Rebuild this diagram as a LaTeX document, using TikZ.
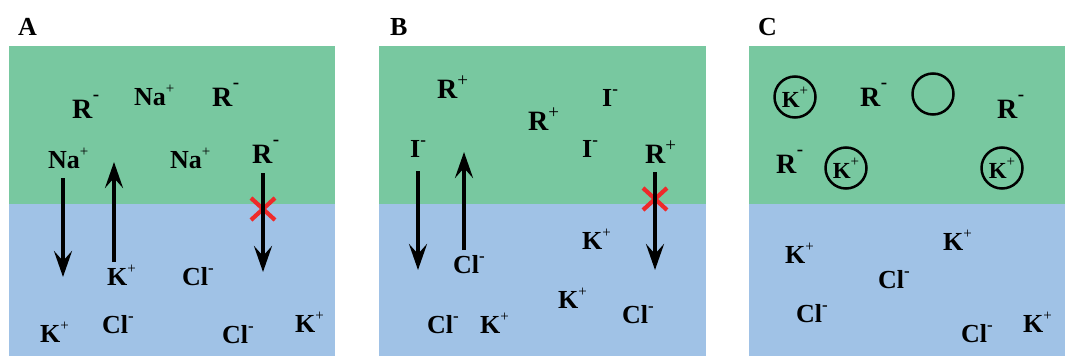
\documentclass[tikz,border=0pt]{standalone}
\usepackage{fontspec}
\setmainfont{Liberation Serif}
\usetikzlibrary{arrows.meta}

\definecolor{organic}{HTML}{78C8A0}
\definecolor{aqueous}{HTML}{A0C2E6}
\definecolor{blocked}{HTML}{EE2A2A}

% charge superscripts
\newcommand\pos{\raisebox{12pt}{\fontsize{15pt}{15pt}\selectfont\mdseries +}}
\newcommand\negc{\raisebox{12pt}{\fontsize{17pt}{17pt}\selectfont -}}
\newcommand\rneg{{\fontsize{28pt}{28pt}\selectfont R}\kern0.5pt\raisebox{18pt}{\fontsize{19pt}{19pt}\selectfont -}}
\newcommand\rpos{{\fontsize{28pt}{28pt}\selectfont R}\raisebox{12pt}{\fontsize{19pt}{19pt}\selectfont\mdseries +}}

\tikzset{
  ion/.style={inner sep=0pt, anchor=base west, font=\fontsize{26pt}{26pt}\selectfont\bfseries},
  panel/.style={inner sep=0pt, anchor=base west, font=\fontsize{26pt}{26pt}\selectfont\bfseries},
  flux/.style={line width=3.8pt, -{Stealth[length=26pt, width=18pt, inset=10pt]}},
  cross/.style={line width=4.2pt, blocked},
  complex/.style={circle, draw, line width=2.5pt, minimum size=41pt, inner sep=0pt,
    font=\fontsize{23pt}{23pt}\selectfont\bfseries},
}

\begin{document}
\begin{tikzpicture}[x=1pt, y=-1pt]
\useasboundingbox (0,0) rectangle (1065,356);

% ---------- phases ----------
\foreach \xl/\xr in {9/335, 379/706, 749/1065}{
  \fill[organic] (\xl,46) rectangle (\xr,204);
  \fill[aqueous] (\xl,204) rectangle (\xr,356);
}

% ---------- panel letters ----------
\node[panel] (labA) at (18,35) {A};
\node[panel] (labB) at (390,35) {B};
\node[panel] (labC) at (758,35) {C};

% ---------- panel A ----------
\node[ion] (a1) at (72,118) {\rneg};
\node[ion] (a2) at (134,105) {Na\pos};
\node[ion] (a3) at (212,106) {\rneg};
\node[ion] (a4) at (48,168) {Na\pos};
\node[ion] (a5) at (170,168) {Na\pos};
\node[ion] (a6) at (252,163) {\rneg};
\node[ion] (a7) at (107,285) {K\pos};
\node[ion] (a8) at (182,285) {Cl\negc};
\node[ion] (a9) at (40,342) {K\pos};
\node[ion] (a10) at (102,333) {Cl\negc};
\node[ion] (a11) at (222,343) {Cl\negc};
\node[ion] (a12) at (295,332) {K\pos};

\coordinate (aX) at (263,209);
\draw[cross] ([shift={(-12,-11)}]aX) -- ([shift={(12,11)}]aX);
\draw[cross] ([shift={(-12,11)}]aX) -- ([shift={(12,-11)}]aX);

\coordinate (a1s) at (63,178);  \coordinate (a1e) at (63,277);
\coordinate (a2s) at (114,262); \coordinate (a2e) at (114,162);
\coordinate (a3s) at (263,173); \coordinate (a3e) at (263,272);
\draw[flux] (a1s) -- (a1e);
\draw[flux] (a2s) -- (a2e);
\draw[flux] (a3s) -- (a3e);

% ---------- panel B ----------
\node[ion] (b1) at (437,98) {\rpos};
\node[ion] (b2) at (602,106) {I\negc};
\node[ion] (b3) at (528,130) {\rpos};
\node[ion] (b4) at (410,157) {I\negc};
\node[ion] (b5) at (582,157) {I\negc};
\node[ion] (b6) at (645,163) {\rpos};
\node[ion] (b7) at (453,273) {Cl\negc};
\node[ion] (b8) at (582,249) {K\pos};
\node[ion] (b9) at (558,308) {K\pos};
\node[ion] (b10) at (622,323) {Cl\negc};
\node[ion] (b11) at (427,333) {Cl\negc};
\node[ion] (b12) at (480,333) {K\pos};

\coordinate (bX) at (655,199);
\draw[cross] ([shift={(-12,-11)}]bX) -- ([shift={(12,11)}]bX);
\draw[cross] ([shift={(-12,11)}]bX) -- ([shift={(12,-11)}]bX);

\coordinate (b1s) at (418,171); \coordinate (b1e) at (418,270);
\coordinate (b2s) at (464,250); \coordinate (b2e) at (464,152);
\coordinate (b3s) at (655,172); \coordinate (b3e) at (655,270);
\draw[flux] (b1s) -- (b1e);
\draw[flux] (b2s) -- (b2e);
\draw[flux] (b3s) -- (b3e);

% ---------- panel C ----------
\node[complex] (c1) at (795,97) {K\pos};
\node[complex] (c2) at (846,168) {K\pos};
\node[complex] (c3) at (1002,168) {K\pos};
\node[complex] (c4) at (933,94) {};
\node[ion] (c5) at (860,106) {\rneg};
\node[ion] (c6) at (776,173) {\rneg};
\node[ion] (c7) at (997,118) {\rneg};
\node[ion] (c8) at (785,263) {K\pos};
\node[ion] (c9) at (943,250) {K\pos};
\node[ion] (c10) at (878,288) {Cl\negc};
\node[ion] (c11) at (796,322) {Cl\negc};
\node[ion] (c12) at (961,342) {Cl\negc};
\node[ion] (c13) at (1023,332) {K\pos};
\end{tikzpicture}
\end{document}
